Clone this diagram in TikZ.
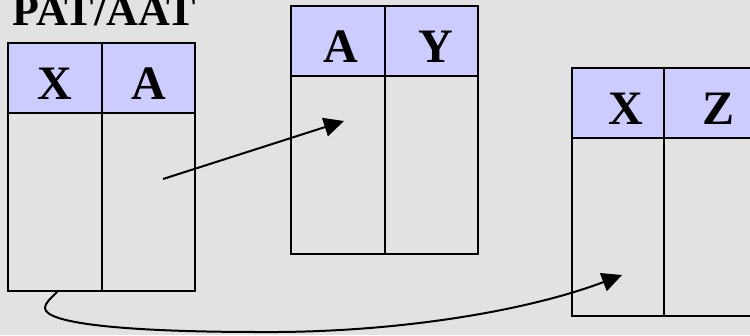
\documentclass[tikz,border=0pt]{standalone}
\usepackage{fontspec}
\setmainfont{Liberation Serif}
\usetikzlibrary{positioning, arrows.meta}
\definecolor{granite}{RGB}{226,226,226}
\definecolor{headblue}{RGB}{204,204,255}

\tikzset{
  hdr/.style={draw, fill=headblue, rectangle, line width=2pt, inner sep=0pt, outer sep=0pt,
    minimum height=70pt, text height=42pt, text depth=0pt,
    font=\fontsize{48}{50}\selectfont\bfseries},
  col/.style={draw, rectangle, line width=2pt, inner sep=0pt, outer sep=0pt, minimum height=178pt},
  link/.style={line width=2pt, -{Triangle[length=20pt, width=19pt]}}
}

\begin{document}
\begin{tikzpicture}[x=1pt, y=-1pt]

  % background
  \useasboundingbox (0,0) rectangle (750,335);
  \clip (0,0) rectangle (750,335);
  \fill [granite] (0,0) rectangle (750,335);

  % --- PAT/AAT table ---
  \node (title) [anchor=base west, font=\fontsize{44}{46}\selectfont\bfseries] at (9,25) {PAT/AAT};
  \node (hX1) [hdr, minimum width=94pt, anchor=north west] at (8,43) {X\hspace{10pt}};
  \node (hA1) [hdr, minimum width=93pt, right=0pt of hX1] {A\hspace{9pt}};
  \node (bX1) [col, minimum width=94pt, below=0pt of hX1] {};
  \node (bA1) [col, minimum width=93pt, below=0pt of hA1] {};

  % --- A/Y table ---
  \node (hA2) [hdr, minimum width=94pt, anchor=north west] at (291,6) {\hspace{6pt}A};
  \node (hY2) [hdr, minimum width=93pt, right=0pt of hA2] {\hspace{8pt}Y};
  \node (bA2) [col, minimum width=94pt, below=0pt of hA2] {};
  \node (bY2) [col, minimum width=93pt, below=0pt of hY2] {};

  % --- X/Z table ---
  \node (hX3) [hdr, minimum width=92pt, anchor=north west] at (572,68) {\hspace{16pt}X};
  \node (hZ3) [hdr, minimum width=94pt, right=0pt of hX3] {\hspace{16pt}Z};
  \node (bX3) [col, minimum width=92pt, below=0pt of hX3] {};
  \node (bZ3) [col, minimum width=94pt, below=0pt of hZ3] {};

  % --- pointers ---
  \coordinate (ptrA) at ([shift={(14.5,-23)}]bA1.center);
  \coordinate (tgtA) at ([shift={(6,-44)}]bA2.center);
  \draw [link] (ptrA) -- (tgtA);

  \coordinate (ptrX) at ([xshift=3pt]bX1.south);
  \coordinate (tgtX) at ([shift={(4,48)}]bX3.center);
  \draw [link] (ptrX) .. controls (50,299) and (45,303) .. (45,308)
    .. controls (45,324) and (130,332) .. (260,332)
    .. controls (400,333) and (530,310) .. (tgtX);

\end{tikzpicture}
\end{document}
